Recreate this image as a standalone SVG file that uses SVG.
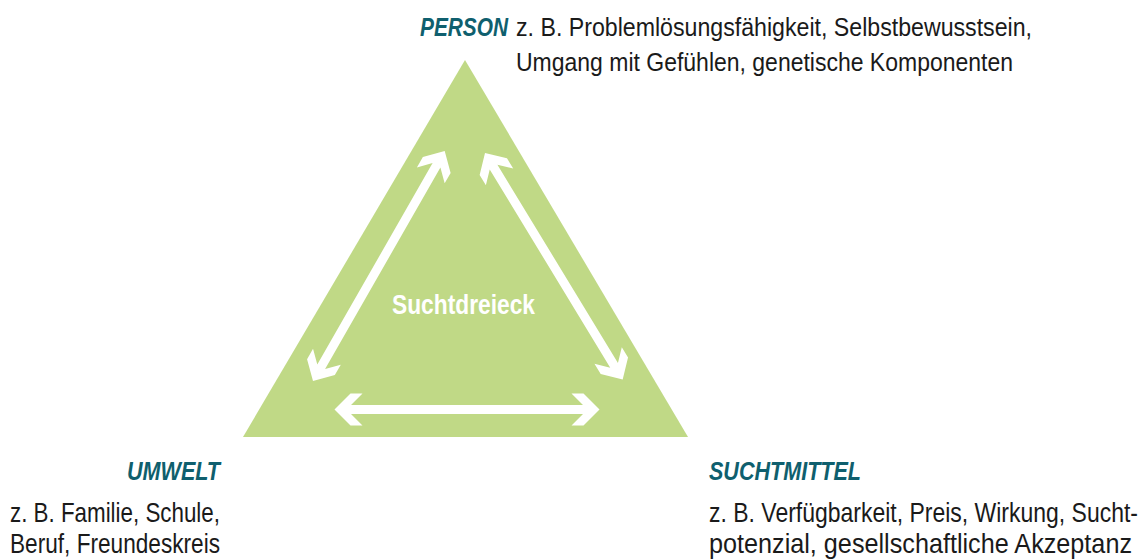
<svg xmlns="http://www.w3.org/2000/svg" xmlns:xlink="http://www.w3.org/1999/xlink" width="1143" height="559" viewBox="0 0 1143 559">
  <style>
    .head { font-family: "Liberation Sans", Arial, sans-serif; font-weight: bold; font-style: italic; font-size: 26px; fill: #0f5f6e; }
    .body { font-family: "Liberation Sans", Arial, sans-serif; font-size: 27.5px; fill: #1a1a1a; }
    .top { font-size: 26.5px; }
    .center { font-family: "Liberation Sans", Arial, sans-serif; font-weight: bold; font-size: 28px; fill: #ffffff; }
    .tri { fill: #c0d986; }
    .arrow { fill: #ffffff; }
  </style>
  <defs>
    <polygon id="dblarrow" class="arrow" points="0,0 16,-16 28,-16 16.5,-4.5 248.5,-4.5 237,-16 249,-16 265,0 249,16 237,16 248.5,4.5 16.5,4.5 28,16 16,16"/>
  </defs>
  <rect width="1143" height="559" fill="#ffffff"/>
  <g id="triangle">
    <polygon class="tri" points="465,60 688,437 243,437"/>
    <text class="center" x="392" y="314" textLength="143" lengthAdjust="spacingAndGlyphs">Suchtdreieck</text>
  </g>
  <g id="connectors">
    <use xlink:href="#dblarrow" href="#dblarrow" transform="translate(334.5,409.5)"/>
    <use xlink:href="#dblarrow" href="#dblarrow" transform="translate(313,381) rotate(-60.2)"/>
    <use xlink:href="#dblarrow" href="#dblarrow" transform="translate(485,153) rotate(58.7)"/>
  </g>
  <g id="person">
    <text class="head" x="420" y="36" textLength="88" lengthAdjust="spacingAndGlyphs">PERSON</text>
    <text class="body top" x="516" y="36" textLength="516" lengthAdjust="spacingAndGlyphs">z. B. Problemlösungsfähigkeit, Selbstbewusstsein,</text>
    <text class="body top" x="516" y="71" textLength="497" lengthAdjust="spacingAndGlyphs">Umgang mit Gefühlen, genetische Komponenten</text>
  </g>
  <g id="umwelt">
    <text class="head" x="127" y="480" textLength="93" lengthAdjust="spacingAndGlyphs">UMWELT</text>
    <text class="body" x="10" y="522" textLength="210" lengthAdjust="spacingAndGlyphs">z. B. Familie, Schule,</text>
    <text class="body" x="10" y="553" textLength="210" lengthAdjust="spacingAndGlyphs">Beruf, Freundeskreis</text>
  </g>
  <g id="suchtmittel">
    <text class="head" x="709" y="480" textLength="152" lengthAdjust="spacingAndGlyphs">SUCHTMITTEL</text>
    <text class="body" x="709" y="522" textLength="429" lengthAdjust="spacingAndGlyphs">z. B. Verfügbarkeit, Preis, Wirkung, Sucht-</text>
    <text class="body" x="709" y="553" textLength="423" lengthAdjust="spacingAndGlyphs">potenzial, gesellschaftliche Akzeptanz</text>
  </g>
</svg>
